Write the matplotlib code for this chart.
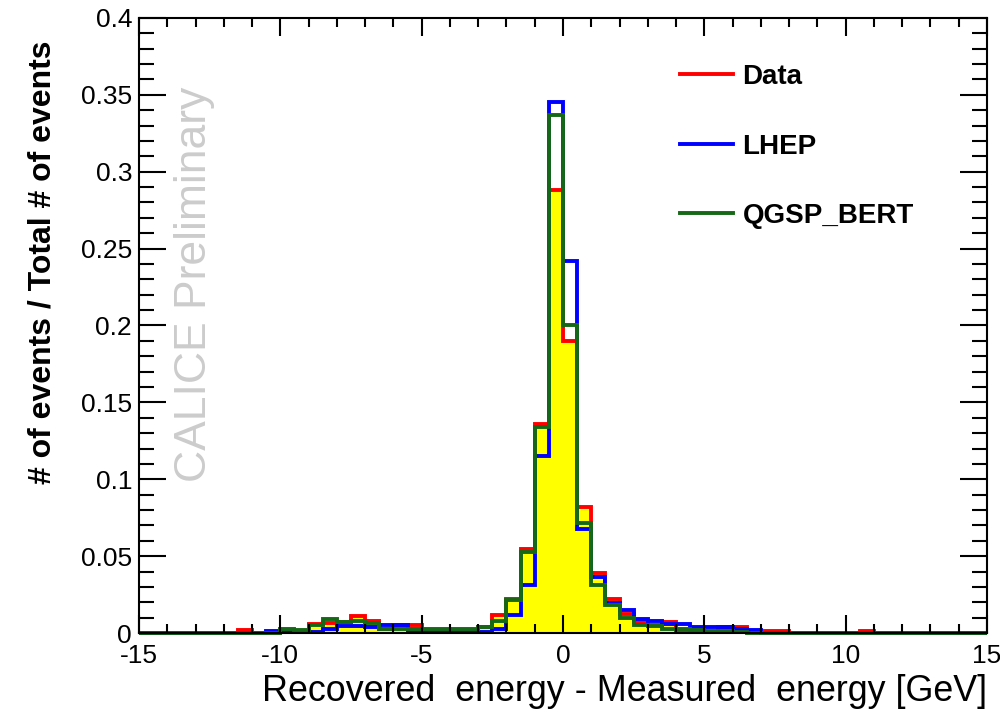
import numpy as np
import matplotlib.pyplot as plt
from matplotlib.lines import Line2D

plt.rcParams['font.family'] = ['Liberation Sans', 'DejaVu Sans']
plt.rcParams['axes.unicode_minus'] = False

# 60 bins de 0.5 GeV entre -15 y 15
edges = np.linspace(-15, 15, 61)

data = [0, 0, 0, 0, 0, 0, 0, 0.0018, 0, 0,
        0.002, 0.001, 0.006, 0.0065, 0.007, 0.011, 0.008, 0.003, 0.0055, 0.005,
        0.001, 0.001, 0.0008, 0.002, 0.004, 0.0117, 0.022, 0.0546, 0.136, 0.288,
        0.19, 0.082, 0.039, 0.0225, 0.0125, 0.007, 0.005, 0.007, 0.001, 0.001,
        0.001, 0.004, 0.004, 0.0005, 0.0015, 0.0015, 0, 0, 0, 0,
        0, 0.0015, 0, 0, 0, 0, 0, 0, 0, 0]

lhep = [0, 0, 0, 0, 0, 0, 0, 0, 0, 0.0015,
        0.0008, 0.0005, 0.001, 0.003, 0.0045, 0.0045, 0.004, 0.0055, 0.005, 0.0005,
        0.0005, 0.0005, 0.001, 0.0015, 0.001, 0.003, 0.0117, 0.031, 0.115, 0.345,
        0.242, 0.068, 0.0365, 0.0195, 0.015, 0.0095, 0.008, 0.006, 0.006, 0.0042,
        0.004, 0.004, 0.003, 0.002, 0, 0, 0, 0, 0, 0,
        0, 0, 0, 0, 0, 0, 0, 0, 0, 0]

qgsp = [0, 0, 0, 0, 0, 0, 0, 0, 0, 0,
        0.003, 0.002, 0.0055, 0.009, 0.0075, 0.008, 0.0065, 0.003, 0.0025, 0.003,
        0.003, 0.003, 0.0025, 0.003, 0.004, 0.008, 0.0215, 0.0525, 0.134, 0.337,
        0.20, 0.0715, 0.031, 0.018, 0.010, 0.005, 0.0048, 0.0025, 0.0028, 0.0018,
        0.0015, 0.0015, 0.0005, 0, 0, 0, 0, 0, 0, 0,
        0, 0, 0, 0, 0, 0, 0, 0, 0, 0]

nombres = ['Data', 'LHEP', 'QGSP_BERT']
colores = ['#ff0000', '#0000ff', '#156815']

fig = plt.figure(figsize=(10, 7.13), dpi=100)
ax = fig.add_axes([0.139, 0.112, 0.848, 0.863])

ax.stairs(data, edges, fill=True, color='#ffff00', lw=0)
for valores, col in zip([data, lhep, qgsp], colores):
    ax.stairs(valores, edges, color=col, lw=2.8, clip_on=False)

ax.set_xlim(-15, 15)
ax.set_ylim(0, 0.4)
ax.set_xticks(np.arange(-15, 16, 5))
ax.set_xticks(np.arange(-15, 16, 1), minor=True)
ax.set_yticks(np.arange(0, 0.41, 0.05))
ax.set_yticks(np.arange(0, 0.41, 0.01), minor=True)
ax.set_yticklabels(['0', '0.05', '0.1', '0.15', '0.2', '0.25', '0.3', '0.35', '0.4'])

ax.tick_params(which='both', direction='in', top=True, right=True, width=1.5,
               labelsize=19)
ax.tick_params(axis='x', which='major', length=13, pad=8)
ax.tick_params(axis='x', which='minor', length=6.5)
ax.tick_params(axis='y', which='major', length=19.5, pad=5)
ax.tick_params(axis='y', which='minor', length=11)
for s in ax.spines.values():
    s.set_linewidth(1.5)

ax.set_xlabel('Recovered  energy - Measured  energy [GeV]', fontsize=25.8, ha='right')
ax.xaxis.set_label_coords(1.0, -0.066)
ax.set_ylabel('# of events / Total # of events', fontsize=23, fontweight='bold')
ax.yaxis.set_label_coords(-0.096, 0.603)

ax.text(0.066, 0.566, 'CALICE Preliminary', transform=ax.transAxes, rotation=90,
        fontsize=32, color='#cccccc', ha='center', va='center')

handles = [Line2D([], [], color=c, lw=2.8) for c in colores]
ax.legend(handles, nombres, loc='upper left', bbox_to_anchor=(0.638, 0.925),
          frameon=False, borderpad=0, borderaxespad=0, handlelength=1.9,
          handletextpad=0.35, labelspacing=1.57,
          prop={'weight': 'bold', 'size': 20})

fig.savefig('out.png', dpi=100)
